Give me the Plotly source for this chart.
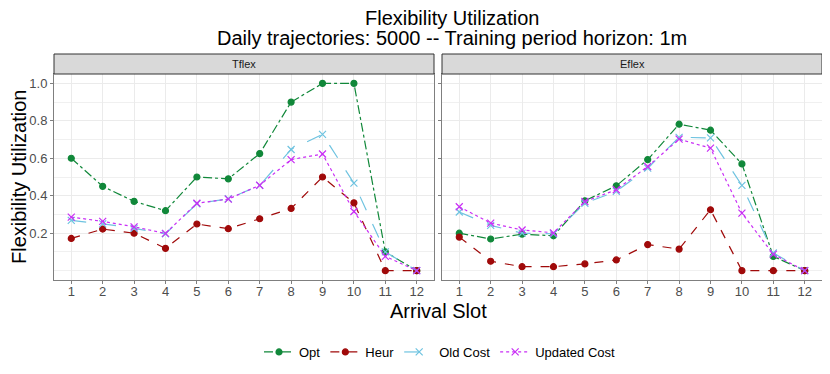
import plotly.graph_objects as go
from plotly.subplots import make_subplots

slots = list(range(1, 13))
panels = ['Tflex', 'Eflex']

# Tflex
tflex_opt = [0.60, 0.45, 0.37, 0.32, 0.50, 0.49, 0.625, 0.90, 1.00, 1.00, 0.10, 0.0]
tflex_heur = [0.172, 0.222, 0.20, 0.119, 0.249, 0.224, 0.277, 0.332, 0.50, 0.362, 0.0, 0.0]
tflex_old = [0.268, 0.25, 0.226, 0.197, 0.357, 0.384, 0.455, 0.647, 0.728, 0.467, 0.10, 0.0]
tflex_upd = [0.286, 0.263, 0.234, 0.199, 0.36, 0.382, 0.456, 0.593, 0.623, 0.316, 0.076, 0.0]

# Eflex
eflex_opt = [0.20, 0.169, 0.195, 0.186, 0.373, 0.453, 0.593, 0.782, 0.75, 0.57, 0.076, 0.0]
eflex_heur = [0.179, 0.05, 0.021, 0.021, 0.036, 0.057, 0.139, 0.115, 0.325, 0.0, 0.0, 0.0]
eflex_old = [0.313, 0.242, 0.20, 0.197, 0.36, 0.423, 0.547, 0.712, 0.709, 0.455, 0.094, 0.0]
eflex_upd = [0.341, 0.254, 0.217, 0.202, 0.369, 0.432, 0.556, 0.702, 0.654, 0.307, 0.087, 0.0]

series = ['Opt', 'Heur', 'Old Cost', 'Updated Cost']
data = {
    'Tflex': [tflex_opt, tflex_heur, tflex_old, tflex_upd],
    'Eflex': [eflex_opt, eflex_heur, eflex_old, eflex_upd],
}
colors = ['#11883A', '#A00A0A', '#6EC3E0', '#C92EF5']
dashes = ['dashdot', 'dash', 'longdash', 'dot']
symbols = ['circle', 'circle', 'x-thin-open', 'x-thin-open']

# page body has an 8px margin, so lay things out on a 822x366 canvas
W, H, OFF = 822, 366, 8
def px(X):
    return (X - OFF) / W
def py(Y):
    return 1 - (Y - OFF) / H

FONT = 'Liberation Sans, Arial'

fig = make_subplots(rows=1, cols=2, shared_yaxes=True)

for c, p in enumerate(panels):
    for i, s in enumerate(series):
        fig.add_trace(go.Scatter(
            x=slots, y=data[p][i], name=s, mode='lines+markers',
            line=dict(color=colors[i], dash=dashes[i], width=1.2),
            marker=dict(symbol=symbols[i], size=6 if i < 2 else 7, color=colors[i],
                        line=dict(color=colors[i], width=1.2)),
            showlegend=(c == 0), legendgroup=s), row=1, col=c + 1)

y0, y1, ys = py(280), py(74), py(54)
doms = [(px(54), px(434)), (px(442), px(822))]

ax = dict(showgrid=True, gridcolor='#EBEBEB', gridwidth=1, zeroline=False,
          showline=True, linecolor='#7F7F7F', linewidth=1, mirror=True,
          ticks='outside', ticklen=3, tickcolor='#7F7F7F', automargin=False,
          tickfont=dict(family=FONT, size=13, color='#4D4D4D'))

for c in range(2):
    fig.update_xaxes(ax, domain=doms[c], range=[0.45, 12.55], tickvals=slots,
                     ticklabelstandoff=-4, row=1, col=c + 1)
    fig.update_yaxes(ax, domain=[y0, y1], range=[-0.05, 1.05],
                     tickvals=[0.2, 0.4, 0.6, 0.8, 1.0],
                     ticktext=['0.2', '0.4', '0.6', '0.8', '1.0'],
                     minor=dict(tickvals=[0.0, 0.1, 0.3, 0.5, 0.7, 0.9], showgrid=True,
                                gridcolor='#F0F0F0', ticklen=0),
                     showticklabels=(c == 0), row=1, col=c + 1)
    # facet strip
    fig.add_shape(type='rect', xref='paper', yref='paper',
                  x0=doms[c][0], x1=doms[c][1], y0=y1, y1=ys,
                  fillcolor='#D9D9D9', line=dict(color='#333333', width=1))
    fig.add_annotation(x=(doms[c][0] + doms[c][1]) / 2, y=(y1 + ys) / 2,
                       xref='paper', yref='paper', text=panels[c], showarrow=False,
                       xanchor='center', yanchor='middle',
                       font=dict(family=FONT, size=11, color='#1A1A1A'))

texts = [
    ('Flexibility Utilization', 19, (280 + 74) / 2, -90),
    ('Arrival Slot', 438, 311, 0),
    ('Flexibility Utilization', 452, 18, 0),
    ('Daily trajectories: 5000 -- Training period horizon: 1m', 452, 38, 0),
]
for t, X, Y, ang in texts:
    fig.add_annotation(x=px(X), y=py(Y), xref='paper', yref='paper', text=t,
                       textangle=ang, showarrow=False, xanchor='center', yanchor='middle',
                       borderpad=0, font=dict(family=FONT, size=20, color='black'))

fig.update_layout(
    width=W, height=H,
    margin=dict(l=0, r=0, t=0, b=0, autoexpand=False),
    paper_bgcolor='white', plot_bgcolor='white',
    legend=dict(orientation='h', x=px(440), xanchor='center', y=py(352),
                yanchor='middle', font=dict(family=FONT, size=13, color='black'),
                itemwidth=30, tracegroupgap=0),
)

fig.write_html("out.html")
